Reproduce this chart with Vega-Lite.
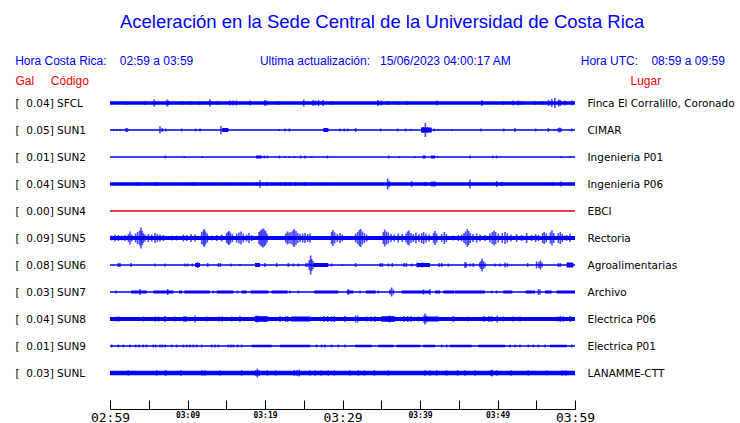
{
  "$schema": "https://vega.github.io/schema/vega-lite/v6.json",
  "width": 465,
  "height": 297,
  "autosize": "none",
  "padding": {"left": 110, "top": 89.5, "right": 165, "bottom": 36.5},
  "background": "white",
  "config": {"view": {"stroke": null}},
  "title": {
    "text": "\u200b\u00a0\u00a0\u00a0\u00a0\u2009Aceleración en la Sede Central de la Universidad de Costa Rica",
    "subtitle": "Hora Costa Rica:\u00a0\u00a0\u00a0\u00a002:59 a 03:59\u00a0\u00a0\u00a0\u00a0\u00a0\u00a0\u00a0\u00a0\u00a0\u00a0\u00a0\u00a0\u00a0\u00a0\u00a0\u00a0\u00a0\u00a0\u00a0\u00a0Ultima actualización:\u00a0\u00a0\u00a015/06/2023 04:00:17 AM\u00a0\u00a0\u00a0\u00a0\u00a0\u00a0\u00a0\u00a0\u00a0\u00a0\u00a0\u00a0\u00a0\u00a0\u00a0\u00a0\u00a0\u00a0\u00a0\u00a0\u00a0Hora UTC:\u00a0\u00a0\u00a0\u00a008:59 a 09:59",
    "anchor": "middle",
    "frame": "group",
    "dx": 27.5,
    "offset": 7,
    "font": "Liberation Sans",
    "fontSize": 18.5,
    "fontWeight": "normal",
    "color": "#0000ff",
    "subtitleFont": "Liberation Sans",
    "subtitleFontSize": 12,
    "subtitleColor": "#0000ff",
    "subtitlePadding": 25
  },
  "datasets": {
    "stations": [
      {"s": "SFCL", "gal": 0.04, "label": "[\u00a0\u00a00.04]\u00a0SFCL", "place": "Finca El Corralillo, Coronado"},
      {"s": "SUN1", "gal": 0.05, "label": "[\u00a0\u00a00.05]\u00a0SUN1", "place": "CIMAR"},
      {"s": "SUN2", "gal": 0.01, "label": "[\u00a0\u00a00.01]\u00a0SUN2", "place": "Ingenieria P01"},
      {"s": "SUN3", "gal": 0.04, "label": "[\u00a0\u00a00.04]\u00a0SUN3", "place": "Ingenieria P06"},
      {"s": "SUN4", "gal": 0.0, "label": "[\u00a0\u00a00.00]\u00a0SUN4", "place": "EBCI"},
      {"s": "SUN5", "gal": 0.09, "label": "[\u00a0\u00a00.09]\u00a0SUN5", "place": "Rectoria"},
      {"s": "SUN6", "gal": 0.08, "label": "[\u00a0\u00a00.08]\u00a0SUN6", "place": "Agroalimentarias"},
      {"s": "SUN7", "gal": 0.03, "label": "[\u00a0\u00a00.03]\u00a0SUN7", "place": "Archivo"},
      {"s": "SUN8", "gal": 0.04, "label": "[\u00a0\u00a00.04]\u00a0SUN8", "place": "Electrica P06"},
      {"s": "SUN9", "gal": 0.01, "label": "[\u00a0\u00a00.01]\u00a0SUN9", "place": "Electrica P01"},
      {"s": "SUNL", "gal": 0.03, "label": "[\u00a0\u00a00.03]\u00a0SUNL", "place": "LANAMME-CTT"}
    ],
    "bands": [
      {"s": "SFCL", "from": 0, "to": 60, "w": 3.6},
      {"s": "SUN1", "from": 14.49, "to": 15.27, "w": 4},
      {"s": "SUN1", "from": 27.53, "to": 28.17, "w": 4},
      {"s": "SUN1", "from": 40.13, "to": 41.51, "w": 5},
      {"s": "SUN2", "from": 18.84, "to": 19.57, "w": 3},
      {"s": "SUN2", "from": 40.35, "to": 40.7, "w": 3},
      {"s": "SUN2", "from": 41.42, "to": 41.94, "w": 3},
      {"s": "SUN3", "from": 0, "to": 60, "w": 3.6},
      {"s": "SUN5", "from": 0, "to": 60, "w": 4},
      {"s": "SUN6", "from": 10.97, "to": 11.61, "w": 4},
      {"s": "SUN6", "from": 18.71, "to": 19.35, "w": 4},
      {"s": "SUN6", "from": 26.24, "to": 28.17, "w": 4},
      {"s": "SUN6", "from": 39.57, "to": 41.29, "w": 4},
      {"s": "SUN6", "from": 58.92, "to": 59.78, "w": 5},
      {"s": "SUN7", "from": 2.71, "to": 4.73, "w": 3},
      {"s": "SUN7", "from": 5.59, "to": 8.17, "w": 3},
      {"s": "SUN7", "from": 8.9, "to": 9.33, "w": 3},
      {"s": "SUN7", "from": 9.59, "to": 12.9, "w": 3},
      {"s": "SUN7", "from": 13.76, "to": 15.91, "w": 3},
      {"s": "SUN7", "from": 16.99, "to": 17.63, "w": 3},
      {"s": "SUN7", "from": 18.15, "to": 20.43, "w": 3},
      {"s": "SUN7", "from": 20.86, "to": 22.92, "w": 3},
      {"s": "SUN7", "from": 26.37, "to": 29.46, "w": 3},
      {"s": "SUN7", "from": 30.54, "to": 31.4, "w": 3},
      {"s": "SUN7", "from": 33.03, "to": 34.28, "w": 3},
      {"s": "SUN7", "from": 37.63, "to": 41.29, "w": 3},
      {"s": "SUN7", "from": 41.94, "to": 42.58, "w": 3},
      {"s": "SUN7", "from": 43.01, "to": 44.43, "w": 3},
      {"s": "SUN7", "from": 44.52, "to": 48.39, "w": 3},
      {"s": "SUN7", "from": 50.75, "to": 51.91, "w": 3},
      {"s": "SUN7", "from": 53.63, "to": 54.84, "w": 3},
      {"s": "SUN7", "from": 56.13, "to": 56.99, "w": 3},
      {"s": "SUN7", "from": 57.63, "to": 60, "w": 3},
      {"s": "SUN8", "from": 0, "to": 60, "w": 4},
      {"s": "SUN8", "from": 18.7, "to": 20.4, "w": 5.5},
      {"s": "SUN8", "from": 23.4, "to": 25.8, "w": 5},
      {"s": "SUN8", "from": 35.0, "to": 36.8, "w": 5.5},
      {"s": "SUN8", "from": 40.8, "to": 42.4, "w": 5},
      {"s": "SUN9", "from": 18.28, "to": 20.86, "w": 2.5},
      {"s": "SUN9", "from": 21.94, "to": 25.81, "w": 2.5},
      {"s": "SUN9", "from": 31.61, "to": 33.76, "w": 2.5},
      {"s": "SUN9", "from": 34.62, "to": 36.56, "w": 2.5},
      {"s": "SUN9", "from": 36.99, "to": 40.0, "w": 2.5},
      {"s": "SUN9", "from": 40.43, "to": 41.94, "w": 2.5},
      {"s": "SUN9", "from": 43.87, "to": 46.67, "w": 2.5},
      {"s": "SUN9", "from": 47.53, "to": 50.97, "w": 2.5},
      {"s": "SUN9", "from": 56.77, "to": 58.92, "w": 2.5},
      {"s": "SUNL", "from": 0, "to": 60, "w": 4.5}
    ],
    "ticks": [
      {"s":"SFCL","t":2.0,"a":4},{"s":"SFCL","t":4.5,"a":4},{"s":"SFCL","t":5.7,"a":7},{"s":"SFCL","t":7.35,"a":7},{"s":"SFCL","t":7.5,"a":5},{"s":"SFCL","t":9.3,"a":4},{"s":"SFCL","t":10.3,"a":4},{"s":"SFCL","t":11.6,"a":4},{"s":"SFCL","t":12.9,"a":7},{"s":"SFCL","t":13.9,"a":4},{"s":"SFCL","t":15.5,"a":5},{"s":"SFCL","t":15.9,"a":5},{"s":"SFCL","t":16.3,"a":5},{"s":"SFCL","t":18.1,"a":5},{"s":"SFCL","t":20.0,"a":6},{"s":"SFCL","t":20.2,"a":5},{"s":"SFCL","t":21.7,"a":4},{"s":"SFCL","t":25.0,"a":7},{"s":"SFCL","t":26.2,"a":6},{"s":"SFCL","t":26.5,"a":5},{"s":"SFCL","t":26.9,"a":6},{"s":"SFCL","t":27.5,"a":6},{"s":"SFCL","t":28.6,"a":4},{"s":"SFCL","t":34.6,"a":6},{"s":"SFCL","t":35.0,"a":5},{"s":"SFCL","t":35.9,"a":4},{"s":"SFCL","t":37.1,"a":4},{"s":"SFCL","t":38.3,"a":4},{"s":"SFCL","t":42.2,"a":5},{"s":"SFCL","t":48.0,"a":6},{"s":"SFCL","t":50.8,"a":4},{"s":"SFCL","t":52.0,"a":5},{"s":"SFCL","t":52.7,"a":5},{"s":"SFCL","t":53.1,"a":4},{"s":"SFCL","t":54.8,"a":4},{"s":"SFCL","t":55.7,"a":4},{"s":"SFCL","t":56.6,"a":6},{"s":"SFCL","t":57.0,"a":8},{"s":"SFCL","t":57.4,"a":10},{"s":"SFCL","t":57.9,"a":7},{"s":"SFCL","t":58.1,"a":6},{"s":"SFCL","t":58.7,"a":5},{"s":"SFCL","t":59.6,"a":5},
      {"s":"SUN1","t":0.43,"a":2},{"s":"SUN1","t":0.86,"a":2},{"s":"SUN1","t":1.29,"a":2},{"s":"SUN1","t":2.06,"a":4},{"s":"SUN1","t":2.24,"a":4},{"s":"SUN1","t":6.45,"a":7},{"s":"SUN1","t":6.75,"a":4},{"s":"SUN1","t":7.18,"a":3},{"s":"SUN1","t":9.25,"a":3},{"s":"SUN1","t":11.05,"a":3},{"s":"SUN1","t":11.61,"a":3},{"s":"SUN1","t":14.32,"a":8.5},{"s":"SUN1","t":21.85,"a":2},{"s":"SUN1","t":22.58,"a":3},{"s":"SUN1","t":23.14,"a":3},{"s":"SUN1","t":29.68,"a":3},{"s":"SUN1","t":30.24,"a":3},{"s":"SUN1","t":30.67,"a":3},{"s":"SUN1","t":31.7,"a":4},{"s":"SUN1","t":34.92,"a":3},{"s":"SUN1","t":37.12,"a":3},{"s":"SUN1","t":38.15,"a":3},{"s":"SUN1","t":38.8,"a":2},{"s":"SUN1","t":40.43,"a":6},{"s":"SUN1","t":40.69,"a":14},{"s":"SUN1","t":40.95,"a":6},{"s":"SUN1","t":41.81,"a":3},{"s":"SUN1","t":42.37,"a":2},{"s":"SUN1","t":44.09,"a":2},{"s":"SUN1","t":47.87,"a":3},{"s":"SUN1","t":50.8,"a":3},{"s":"SUN1","t":52.26,"a":4},{"s":"SUN1","t":54.92,"a":3},{"s":"SUN1","t":56.56,"a":4},{"s":"SUN1","t":57.33,"a":2},{"s":"SUN1","t":57.85,"a":4},{"s":"SUN1","t":58.02,"a":5},{"s":"SUN1","t":58.19,"a":4},{"s":"SUN1","t":59.57,"a":3},
      {"s":"SUN2","t":7.14,"a":3},{"s":"SUN2","t":9.59,"a":2},{"s":"SUN2","t":11.91,"a":2},{"s":"SUN2","t":19.91,"a":3},{"s":"SUN2","t":20.3,"a":3},{"s":"SUN2","t":21.85,"a":3},{"s":"SUN2","t":22.58,"a":2},{"s":"SUN2","t":23.14,"a":2},{"s":"SUN2","t":23.78,"a":2},{"s":"SUN2","t":24.6,"a":3},{"s":"SUN2","t":25.16,"a":3},{"s":"SUN2","t":26.02,"a":2},{"s":"SUN2","t":28.04,"a":3},{"s":"SUN2","t":35.96,"a":3},{"s":"SUN2","t":37.33,"a":2},{"s":"SUN2","t":39.35,"a":2},{"s":"SUN2","t":42.28,"a":2},{"s":"SUN2","t":46.45,"a":3},{"s":"SUN2","t":49.38,"a":3},{"s":"SUN2","t":49.89,"a":3},{"s":"SUN2","t":58.19,"a":2},{"s":"SUN2","t":59.35,"a":2},
      {"s":"SUN3","t":1.94,"a":3},{"s":"SUN3","t":3.66,"a":4},{"s":"SUN3","t":5.81,"a":4},{"s":"SUN3","t":9.59,"a":3},{"s":"SUN3","t":10.88,"a":4},{"s":"SUN3","t":12.26,"a":3},{"s":"SUN3","t":13.33,"a":3},{"s":"SUN3","t":15.7,"a":3},{"s":"SUN3","t":17.76,"a":3},{"s":"SUN3","t":18.92,"a":4},{"s":"SUN3","t":19.35,"a":7.5},{"s":"SUN3","t":20.22,"a":4},{"s":"SUN3","t":21.94,"a":4},{"s":"SUN3","t":22.58,"a":4},{"s":"SUN3","t":23.23,"a":4},{"s":"SUN3","t":23.87,"a":4},{"s":"SUN3","t":25.16,"a":4},{"s":"SUN3","t":28.09,"a":3},{"s":"SUN3","t":35.83,"a":11},{"s":"SUN3","t":36.04,"a":6},{"s":"SUN3","t":38.92,"a":6},{"s":"SUN3","t":39.48,"a":3},{"s":"SUN3","t":40.56,"a":4},{"s":"SUN3","t":40.73,"a":4},{"s":"SUN3","t":41.51,"a":5},{"s":"SUN3","t":41.72,"a":5},{"s":"SUN3","t":41.94,"a":5},{"s":"SUN3","t":42.37,"a":3},{"s":"SUN3","t":46.45,"a":9},{"s":"SUN3","t":48.47,"a":3},{"s":"SUN3","t":49.89,"a":6},{"s":"SUN3","t":50.54,"a":4},{"s":"SUN3","t":56.34,"a":3},{"s":"SUN3","t":57.08,"a":4},{"s":"SUN3","t":58.19,"a":5},{"s":"SUN3","t":59.35,"a":3},
      {"s":"SUN5","t":0.22,"a":5},{"s":"SUN5","t":0.65,"a":7},{"s":"SUN5","t":1.08,"a":6},{"s":"SUN5","t":1.51,"a":5},{"s":"SUN5","t":1.94,"a":6},{"s":"SUN5","t":2.37,"a":8},{"s":"SUN5","t":2.58,"a":13},{"s":"SUN5","t":2.8,"a":7},{"s":"SUN5","t":3.31,"a":9},{"s":"SUN5","t":3.57,"a":12},{"s":"SUN5","t":3.83,"a":15},{"s":"SUN5","t":4.0,"a":21},{"s":"SUN5","t":4.13,"a":14},{"s":"SUN5","t":4.3,"a":10},{"s":"SUN5","t":4.52,"a":7},{"s":"SUN5","t":4.95,"a":8},{"s":"SUN5","t":5.38,"a":7},{"s":"SUN5","t":5.81,"a":10},{"s":"SUN5","t":6.11,"a":8},{"s":"SUN5","t":6.45,"a":7},{"s":"SUN5","t":6.88,"a":6},{"s":"SUN5","t":7.96,"a":5},{"s":"SUN5","t":8.6,"a":5},{"s":"SUN5","t":9.46,"a":7},{"s":"SUN5","t":9.89,"a":6},{"s":"SUN5","t":10.45,"a":8},{"s":"SUN5","t":10.97,"a":7},{"s":"SUN5","t":11.83,"a":12},{"s":"SUN5","t":12.04,"a":15},{"s":"SUN5","t":12.17,"a":18},{"s":"SUN5","t":12.34,"a":13},{"s":"SUN5","t":12.56,"a":9},{"s":"SUN5","t":13.12,"a":5},{"s":"SUN5","t":13.76,"a":6},{"s":"SUN5","t":14.41,"a":7},{"s":"SUN5","t":15.05,"a":10},{"s":"SUN5","t":15.23,"a":12},{"s":"SUN5","t":15.35,"a":14},{"s":"SUN5","t":15.53,"a":11},{"s":"SUN5","t":15.78,"a":8},{"s":"SUN5","t":16.34,"a":9},{"s":"SUN5","t":16.64,"a":11},{"s":"SUN5","t":16.9,"a":13},{"s":"SUN5","t":17.2,"a":9},{"s":"SUN5","t":17.63,"a":7},{"s":"SUN5","t":17.94,"a":10},{"s":"SUN5","t":18.28,"a":6},{"s":"SUN5","t":19.23,"a":12},{"s":"SUN5","t":19.4,"a":15},{"s":"SUN5","t":19.57,"a":17},{"s":"SUN5","t":19.74,"a":19},{"s":"SUN5","t":19.91,"a":17},{"s":"SUN5","t":20.09,"a":14},{"s":"SUN5","t":20.26,"a":9},{"s":"SUN5","t":21.38,"a":4},{"s":"SUN5","t":22.67,"a":9},{"s":"SUN5","t":22.88,"a":13},{"s":"SUN5","t":23.1,"a":11},{"s":"SUN5","t":23.35,"a":12},{"s":"SUN5","t":23.61,"a":15},{"s":"SUN5","t":23.78,"a":18},{"s":"SUN5","t":24.0,"a":14},{"s":"SUN5","t":24.22,"a":10},{"s":"SUN5","t":24.52,"a":8},{"s":"SUN5","t":24.86,"a":9},{"s":"SUN5","t":25.16,"a":10},{"s":"SUN5","t":25.51,"a":8},{"s":"SUN5","t":25.81,"a":9},{"s":"SUN5","t":28.6,"a":12},{"s":"SUN5","t":28.77,"a":16},{"s":"SUN5","t":28.99,"a":11},{"s":"SUN5","t":29.33,"a":8},{"s":"SUN5","t":29.68,"a":10},{"s":"SUN5","t":29.98,"a":7},{"s":"SUN5","t":31.7,"a":9},{"s":"SUN5","t":31.96,"a":12},{"s":"SUN5","t":32.17,"a":16},{"s":"SUN5","t":32.34,"a":18},{"s":"SUN5","t":32.56,"a":13},{"s":"SUN5","t":32.82,"a":10},{"s":"SUN5","t":33.12,"a":7},{"s":"SUN5","t":35.27,"a":12},{"s":"SUN5","t":35.44,"a":17},{"s":"SUN5","t":35.66,"a":13},{"s":"SUN5","t":35.91,"a":11},{"s":"SUN5","t":36.26,"a":8},{"s":"SUN5","t":36.69,"a":7},{"s":"SUN5","t":37.2,"a":9},{"s":"SUN5","t":37.72,"a":8},{"s":"SUN5","t":38.19,"a":9},{"s":"SUN5","t":38.41,"a":13},{"s":"SUN5","t":38.58,"a":15},{"s":"SUN5","t":38.84,"a":10},{"s":"SUN5","t":39.14,"a":8},{"s":"SUN5","t":39.48,"a":11},{"s":"SUN5","t":39.87,"a":8},{"s":"SUN5","t":40.22,"a":10},{"s":"SUN5","t":40.47,"a":12},{"s":"SUN5","t":40.77,"a":9},{"s":"SUN5","t":41.16,"a":7},{"s":"SUN5","t":41.76,"a":10},{"s":"SUN5","t":41.94,"a":14},{"s":"SUN5","t":42.15,"a":9},{"s":"SUN5","t":42.8,"a":8},{"s":"SUN5","t":43.14,"a":12},{"s":"SUN5","t":43.4,"a":8},{"s":"SUN5","t":44.3,"a":5},{"s":"SUN5","t":44.95,"a":6},{"s":"SUN5","t":45.38,"a":7},{"s":"SUN5","t":45.68,"a":10},{"s":"SUN5","t":45.89,"a":13},{"s":"SUN5","t":46.11,"a":18},{"s":"SUN5","t":46.28,"a":14},{"s":"SUN5","t":46.49,"a":10},{"s":"SUN5","t":46.84,"a":8},{"s":"SUN5","t":47.31,"a":9},{"s":"SUN5","t":47.74,"a":7},{"s":"SUN5","t":48.39,"a":6},{"s":"SUN5","t":49.03,"a":9},{"s":"SUN5","t":49.33,"a":12},{"s":"SUN5","t":49.55,"a":15},{"s":"SUN5","t":49.76,"a":12},{"s":"SUN5","t":50.11,"a":9},{"s":"SUN5","t":50.62,"a":10},{"s":"SUN5","t":50.97,"a":12},{"s":"SUN5","t":51.27,"a":9},{"s":"SUN5","t":51.74,"a":7},{"s":"SUN5","t":52.47,"a":8},{"s":"SUN5","t":53.12,"a":6},{"s":"SUN5","t":53.76,"a":10},{"s":"SUN5","t":54.41,"a":6},{"s":"SUN5","t":54.92,"a":8},{"s":"SUN5","t":55.27,"a":6},{"s":"SUN5","t":55.83,"a":10},{"s":"SUN5","t":56.04,"a":12},{"s":"SUN5","t":56.3,"a":9},{"s":"SUN5","t":56.82,"a":11},{"s":"SUN5","t":57.03,"a":15},{"s":"SUN5","t":57.25,"a":10},{"s":"SUN5","t":57.85,"a":10},{"s":"SUN5","t":58.11,"a":12},{"s":"SUN5","t":58.37,"a":8},{"s":"SUN5","t":58.92,"a":6},{"s":"SUN5","t":59.35,"a":8},
      {"s":"SUN6","t":1.08,"a":4},{"s":"SUN6","t":1.29,"a":4},{"s":"SUN6","t":2.71,"a":4},{"s":"SUN6","t":5.81,"a":3},{"s":"SUN6","t":7.1,"a":3},{"s":"SUN6","t":9.68,"a":3},{"s":"SUN6","t":10.02,"a":3},{"s":"SUN6","t":10.62,"a":3},{"s":"SUN6","t":11.31,"a":6},{"s":"SUN6","t":12.6,"a":4},{"s":"SUN6","t":13.98,"a":4},{"s":"SUN6","t":14.24,"a":4},{"s":"SUN6","t":15.61,"a":3},{"s":"SUN6","t":16.77,"a":2},{"s":"SUN6","t":20.0,"a":4},{"s":"SUN6","t":21.51,"a":4},{"s":"SUN6","t":23.01,"a":4},{"s":"SUN6","t":23.66,"a":3},{"s":"SUN6","t":24.3,"a":3},{"s":"SUN6","t":25.29,"a":4},{"s":"SUN6","t":25.55,"a":4},{"s":"SUN6","t":25.72,"a":10},{"s":"SUN6","t":25.89,"a":19},{"s":"SUN6","t":26.02,"a":12},{"s":"SUN6","t":26.2,"a":8},{"s":"SUN6","t":28.6,"a":3},{"s":"SUN6","t":29.98,"a":2},{"s":"SUN6","t":31.7,"a":4},{"s":"SUN6","t":34.88,"a":4},{"s":"SUN6","t":35.14,"a":4},{"s":"SUN6","t":35.91,"a":3},{"s":"SUN6","t":36.43,"a":4},{"s":"SUN6","t":37.94,"a":4},{"s":"SUN6","t":38.24,"a":4},{"s":"SUN6","t":38.92,"a":3},{"s":"SUN6","t":39.66,"a":5},{"s":"SUN6","t":40.3,"a":5},{"s":"SUN6","t":42.45,"a":4},{"s":"SUN6","t":42.8,"a":4},{"s":"SUN6","t":43.66,"a":3},{"s":"SUN6","t":45.81,"a":6},{"s":"SUN6","t":45.98,"a":5},{"s":"SUN6","t":46.45,"a":3},{"s":"SUN6","t":46.88,"a":4},{"s":"SUN6","t":47.7,"a":5},{"s":"SUN6","t":47.87,"a":8},{"s":"SUN6","t":48.0,"a":13},{"s":"SUN6","t":48.17,"a":8},{"s":"SUN6","t":48.39,"a":5},{"s":"SUN6","t":49.68,"a":3},{"s":"SUN6","t":50.32,"a":3},{"s":"SUN6","t":50.97,"a":5},{"s":"SUN6","t":51.27,"a":4},{"s":"SUN6","t":53.89,"a":4},{"s":"SUN6","t":55.05,"a":7},{"s":"SUN6","t":55.35,"a":6},{"s":"SUN6","t":55.53,"a":9},{"s":"SUN6","t":55.74,"a":5},{"s":"SUN6","t":57.85,"a":4},{"s":"SUN6","t":58.11,"a":4},
      {"s":"SUN7","t":0.77,"a":3},{"s":"SUN7","t":3.87,"a":6},{"s":"SUN7","t":7.44,"a":6},{"s":"SUN7","t":13.33,"a":3},{"s":"SUN7","t":16.47,"a":3},{"s":"SUN7","t":23.23,"a":3},{"s":"SUN7","t":24.3,"a":3},{"s":"SUN7","t":30.75,"a":6},{"s":"SUN7","t":32.26,"a":3},{"s":"SUN7","t":34.62,"a":3},{"s":"SUN7","t":36.13,"a":5},{"s":"SUN7","t":36.34,"a":9},{"s":"SUN7","t":36.56,"a":5},{"s":"SUN7","t":40.43,"a":5},{"s":"SUN7","t":41.29,"a":6},{"s":"SUN7","t":49.25,"a":3},{"s":"SUN7","t":49.89,"a":3},{"s":"SUN7","t":55.27,"a":6},{"s":"SUN7","t":55.48,"a":5},
      {"s":"SUN8","t":0.86,"a":5},{"s":"SUN8","t":1.16,"a":5},{"s":"SUN8","t":4.3,"a":5},{"s":"SUN8","t":5.81,"a":5},{"s":"SUN8","t":6.24,"a":5},{"s":"SUN8","t":7.1,"a":6},{"s":"SUN8","t":8.39,"a":5},{"s":"SUN8","t":9.55,"a":6},{"s":"SUN8","t":9.81,"a":6},{"s":"SUN8","t":10.97,"a":7},{"s":"SUN8","t":12.47,"a":5},{"s":"SUN8","t":14.06,"a":5},{"s":"SUN8","t":14.49,"a":5},{"s":"SUN8","t":15.7,"a":5},{"s":"SUN8","t":16.77,"a":6},{"s":"SUN8","t":18.8,"a":6},{"s":"SUN8","t":18.97,"a":7},{"s":"SUN8","t":19.23,"a":6},{"s":"SUN8","t":19.91,"a":6},{"s":"SUN8","t":21.94,"a":6},{"s":"SUN8","t":22.67,"a":6},{"s":"SUN8","t":22.92,"a":6},{"s":"SUN8","t":27.61,"a":6},{"s":"SUN8","t":28.09,"a":6},{"s":"SUN8","t":28.6,"a":6},{"s":"SUN8","t":28.95,"a":6},{"s":"SUN8","t":30.32,"a":6},{"s":"SUN8","t":31.7,"a":7},{"s":"SUN8","t":31.96,"a":7},{"s":"SUN8","t":33.12,"a":5},{"s":"SUN8","t":33.68,"a":5},{"s":"SUN8","t":34.19,"a":6},{"s":"SUN8","t":35.83,"a":6},{"s":"SUN8","t":36.13,"a":7},{"s":"SUN8","t":36.43,"a":6},{"s":"SUN8","t":37.94,"a":6},{"s":"SUN8","t":38.41,"a":6},{"s":"SUN8","t":38.84,"a":6},{"s":"SUN8","t":39.78,"a":5},{"s":"SUN8","t":40.52,"a":7},{"s":"SUN8","t":40.65,"a":11},{"s":"SUN8","t":40.82,"a":7},{"s":"SUN8","t":44.3,"a":6},{"s":"SUN8","t":46.24,"a":5},{"s":"SUN8","t":48.26,"a":6},{"s":"SUN8","t":48.9,"a":6},{"s":"SUN8","t":49.25,"a":6},{"s":"SUN8","t":49.96,"a":7},{"s":"SUN8","t":50.75,"a":5},{"s":"SUN8","t":52.04,"a":5},{"s":"SUN8","t":52.9,"a":5},{"s":"SUN8","t":57.76,"a":5},{"s":"SUN8","t":58.11,"a":6},{"s":"SUN8","t":58.49,"a":5},{"s":"SUN8","t":59.35,"a":6},
      {"s":"SUN9","t":0.22,"a":3},{"s":"SUN9","t":1.08,"a":3},{"s":"SUN9","t":1.72,"a":3},{"s":"SUN9","t":2.58,"a":3},{"s":"SUN9","t":3.31,"a":3},{"s":"SUN9","t":3.74,"a":3},{"s":"SUN9","t":4.3,"a":3},{"s":"SUN9","t":4.73,"a":3},{"s":"SUN9","t":5.59,"a":3},{"s":"SUN9","t":5.89,"a":3},{"s":"SUN9","t":6.45,"a":3},{"s":"SUN9","t":6.75,"a":3},{"s":"SUN9","t":7.1,"a":3},{"s":"SUN9","t":7.96,"a":3},{"s":"SUN9","t":8.6,"a":3},{"s":"SUN9","t":9.46,"a":3},{"s":"SUN9","t":9.89,"a":3},{"s":"SUN9","t":10.32,"a":3},{"s":"SUN9","t":10.75,"a":3},{"s":"SUN9","t":11.18,"a":3},{"s":"SUN9","t":11.83,"a":3},{"s":"SUN9","t":13.12,"a":3},{"s":"SUN9","t":13.55,"a":3},{"s":"SUN9","t":13.98,"a":3},{"s":"SUN9","t":15.27,"a":3},{"s":"SUN9","t":15.61,"a":3},{"s":"SUN9","t":15.91,"a":3},{"s":"SUN9","t":16.47,"a":3},{"s":"SUN9","t":16.99,"a":3},{"s":"SUN9","t":26.67,"a":3},{"s":"SUN9","t":27.31,"a":3},{"s":"SUN9","t":27.74,"a":3},{"s":"SUN9","t":28.6,"a":3},{"s":"SUN9","t":29.46,"a":3},{"s":"SUN9","t":30.32,"a":3},{"s":"SUN9","t":42.8,"a":3},{"s":"SUN9","t":43.44,"a":3},{"s":"SUN9","t":51.61,"a":3},{"s":"SUN9","t":52.26,"a":3},{"s":"SUN9","t":52.9,"a":3},{"s":"SUN9","t":53.98,"a":3},{"s":"SUN9","t":54.62,"a":3},{"s":"SUN9","t":55.27,"a":3},{"s":"SUN9","t":56.13,"a":3},{"s":"SUN9","t":59.57,"a":3},
      {"s":"SUNL","t":2.37,"a":5.5},{"s":"SUNL","t":6.02,"a":5.5},{"s":"SUNL","t":7.18,"a":6},{"s":"SUNL","t":9.16,"a":5.5},{"s":"SUNL","t":11.91,"a":5.5},{"s":"SUNL","t":12.26,"a":5.5},{"s":"SUNL","t":14.19,"a":5.5},{"s":"SUNL","t":16.99,"a":5.5},{"s":"SUNL","t":18.8,"a":6},{"s":"SUNL","t":19.01,"a":9},{"s":"SUNL","t":19.23,"a":6},{"s":"SUNL","t":20.3,"a":5.5},{"s":"SUNL","t":21.38,"a":5.5},{"s":"SUNL","t":23.78,"a":6},{"s":"SUNL","t":24.13,"a":6},{"s":"SUNL","t":24.43,"a":7},{"s":"SUNL","t":25.81,"a":5.5},{"s":"SUNL","t":26.45,"a":5.5},{"s":"SUNL","t":27.23,"a":5.5},{"s":"SUNL","t":28.17,"a":5.5},{"s":"SUNL","t":28.95,"a":5.5},{"s":"SUNL","t":30.97,"a":5.5},{"s":"SUNL","t":32.04,"a":5.5},{"s":"SUNL","t":32.82,"a":5.5},{"s":"SUNL","t":34.11,"a":5.5},{"s":"SUNL","t":35.91,"a":5.5},{"s":"SUNL","t":40.65,"a":5.5},{"s":"SUNL","t":41.29,"a":5.5},{"s":"SUNL","t":42.15,"a":5.5},{"s":"SUNL","t":43.44,"a":5.5},{"s":"SUNL","t":44.86,"a":5.5},{"s":"SUNL","t":45.81,"a":5.5},{"s":"SUNL","t":47.1,"a":5.5},{"s":"SUNL","t":49.16,"a":6},{"s":"SUNL","t":49.33,"a":7},{"s":"SUNL","t":49.89,"a":5.5},{"s":"SUNL","t":51.74,"a":5.5},{"s":"SUNL","t":53.98,"a":5.5},{"s":"SUNL","t":56.34,"a":5},{"s":"SUNL","t":58.37,"a":5.5},{"s":"SUNL","t":58.8,"a":5.5}
    ]
  },
  "layer": [
    {
      "data": {"name": "stations"},
      "mark": {"type": "rule", "strokeWidth": 1},
      "encoding": {
        "y": {
          "field": "label", "type": "nominal", "sort": null,
          "scale": {"type": "point", "padding": 0.5},
          "axis": {
            "orient": "left", "domain": false, "ticks": false, "tickSize": 0, "grid": false,
            "labelPadding": 95, "labelAlign": "left", "labelBaseline": "middle",
            "labelFont": "DejaVu Sans", "labelFontSize": 10.5, "labelColor": "black", "labelLimit": 0, "labelOverlap": false,
            "title": "Gal\u00a0\u00a0\u00a0\u00a0\u00a0Código", "titleColor": "#ff0000", "titleFont": "Liberation Sans",
            "titleFontSize": 12, "titleFontWeight": "normal", "titleAngle": 0, "titleAlign": "left",
            "titleBaseline": "middle", "titleX": -95, "titleY": -9.5
          }
        },
        "color": {"condition": {"test": "datum.gal === 0", "value": "#dd0000"}, "value": "#0000ff"}
      }
    },
    {
      "data": {"name": "stations"},
      "mark": {"type": "rule", "strokeWidth": 1},
      "encoding": {
        "y": {
          "field": "place", "type": "nominal", "sort": null,
          "scale": {"type": "point", "padding": 0.5},
          "axis": {
            "orient": "right", "domain": false, "ticks": false, "tickSize": 0, "grid": false,
            "labelPadding": 12, "labelAlign": "left", "labelBaseline": "middle",
            "labelFont": "DejaVu Sans", "labelFontSize": 10.5, "labelColor": "black", "labelLimit": 0, "labelOverlap": false,
            "title": "Lugar", "titleColor": "#ff0000", "titleFont": "Liberation Sans",
            "titleFontSize": 12, "titleFontWeight": "normal", "titleAngle": 0, "titleAlign": "left",
            "titleBaseline": "middle", "titleX": 55, "titleY": -9.5
          }
        },
        "color": {"condition": {"test": "datum.gal === 0", "value": "#dd0000"}, "value": "#0000ff"}
      }
    },
    {
      "data": {"name": "bands"},
      "mark": {"type": "bar", "color": "#0000ff"},
      "encoding": {
        "x": {
          "field": "from", "type": "quantitative",
          "scale": {"domain": [0, 60], "nice": false, "zero": false},
          "axis": {
            "title": null, "grid": false, "values": [0, 5, 10, 15, 20, 25, 30, 35, 40, 45, 50, 55, 60],
            "offset": 22.5, "domainColor": "black", "tickColor": "black", "tickSize": -9,
            "labelPadding": 11, "labelBaseline": "top", "labelFont": "DejaVu Sans Mono", "labelColor": "black",
            "labelFontSize": {"condition": {"test": "datum.value % 30 === 0", "value": 13}, "value": 8},
            "labelFontWeight": {"condition": {"test": "datum.value % 30 === 0", "value": "normal"}, "value": "bold"},
            "labelExpr": "datum.value % 10 === 0 ? timeFormat(datetime(2023, 5, 15, 2, 59 + datum.value), '%H:%M') : ''",
            "labelOverlap": false, "labelFlush": false, "labelBound": false
          }
        },
        "x2": {"field": "to"},
        "y": {
          "field": "s", "type": "nominal",
          "scale": {"domain": ["SFCL", "SUN1", "SUN2", "SUN3", "SUN4", "SUN5", "SUN6", "SUN7", "SUN8", "SUN9", "SUNL"], "paddingInner": 0, "paddingOuter": 0},
          "axis": null
        },
        "size": {"field": "w", "type": "quantitative", "scale": {"domain": [0, 30], "range": [0, 30]}, "legend": null}
      }
    },
    {
      "data": {"name": "ticks"},
      "mark": {"type": "tick", "color": "#0000ff", "thickness": 1.6, "orient": "vertical"},
      "encoding": {
        "x": {
          "field": "t", "type": "quantitative",
          "scale": {"domain": [0, 60], "nice": false, "zero": false},
          "axis": {
            "title": null, "grid": false, "values": [0, 5, 10, 15, 20, 25, 30, 35, 40, 45, 50, 55, 60],
            "offset": 22.5, "domainColor": "black", "tickColor": "black", "tickSize": -9,
            "labelPadding": 11, "labelBaseline": "top", "labelFont": "DejaVu Sans Mono", "labelColor": "black",
            "labelFontSize": {"condition": {"test": "datum.value % 30 === 0", "value": 13}, "value": 8},
            "labelFontWeight": {"condition": {"test": "datum.value % 30 === 0", "value": "normal"}, "value": "bold"},
            "labelExpr": "datum.value % 10 === 0 ? timeFormat(datetime(2023, 5, 15, 2, 59 + datum.value), '%H:%M') : ''",
            "labelOverlap": false, "labelFlush": false, "labelBound": false
          }
        },
        "y": {
          "field": "s", "type": "nominal",
          "scale": {"domain": ["SFCL", "SUN1", "SUN2", "SUN3", "SUN4", "SUN5", "SUN6", "SUN7", "SUN8", "SUN9", "SUNL"], "paddingInner": 0, "paddingOuter": 0},
          "axis": null
        },
        "size": {"field": "a", "type": "quantitative", "scale": {"domain": [0, 30], "range": [0, 30]}, "legend": null}
      }
    }
  ],
  "resolve": {"scale": {"y": "independent", "size": "independent"}, "axis": {"y": "independent"}}
}
